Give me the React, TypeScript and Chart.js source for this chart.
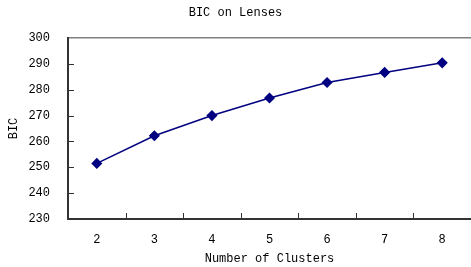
import React, { useEffect, useRef } from "react";
import { Chart, registerables } from "chart.js";

Chart.register(...registerables);

const categories = ["2", "3", "4", "5", "6", "7", "8"];
const bicValues = [251.5, 262.2, 270, 276.8, 282.8, 286.7, 290.4];
const yMin = 230;
const yMax = 300;
const yStep = 10;
const chartTitle = "BIC on Lenses";
const xTitle = "Number of Clusters";
const yTitle = "BIC";

const FONT = '"Liberation Mono", "DejaVu Sans Mono", monospace';
const CLEAR = "rgba(0,0,0,0)";

const innerTicks = {
  id: "innerTicks",
  afterDraw(chart: any) {
    const { ctx, chartArea, scales } = chart;
    const x = scales.x;
    const y = scales.y;
    ctx.save();
    ctx.strokeStyle = "#333333";
    ctx.lineWidth = 1;
    ctx.beginPath();
    y.ticks.forEach((t: any) => {
      if (t.value <= yMin || t.value >= yMax) return;
      const py = Math.round(y.getPixelForValue(t.value)) + 0.5;
      ctx.moveTo(chartArea.left, py);
      ctx.lineTo(chartArea.left + 6, py);
    });
    for (let i = 1; i < categories.length; i++) {
      const px = Math.round((x.getPixelForValue(i - 1) + x.getPixelForValue(i)) / 2) + 0.5;
      ctx.moveTo(px, chartArea.bottom);
      ctx.lineTo(px, chartArea.bottom - 6);
    }
    ctx.stroke();
    ctx.restore();
  },
};

export default function App() {
  const ref = useRef<HTMLCanvasElement | null>(null);

  useEffect(() => {
    if (!ref.current) return;
    const chart = new Chart(ref.current, {
      type: "line",
      data: {
        labels: categories,
        datasets: [
          {
            data: bicValues,
            borderColor: "#000080",
            borderWidth: 1.5,
            pointStyle: "rectRot",
            pointRadius: 4.5,
            pointBackgroundColor: "#000080",
            pointBorderColor: "#000080",
            tension: 0,
          },
        ],
      },
      options: {
        responsive: false,
        animation: false,
        layout: { autoPadding: false, padding: { left: 0, right: 0, top: 0, bottom: 0 } },
        plugins: {
          legend: { display: false },
          tooltip: { enabled: false },
          title: {
            display: true,
            text: chartTitle,
            color: "#000000",
            font: { family: FONT, size: 12, weight: "normal" },
            padding: { top: 6, bottom: 17.6 },
          },
        },
        scales: {
          x: {
            offset: true,
            grid: {
              display: true,
              drawOnChartArea: false,
              drawTicks: true,
              tickLength: 13.8,
              color: CLEAR,
              tickColor: CLEAR,
            },
            border: { display: true, color: "#333333", width: 2 },
            ticks: {
              color: "#000000",
              font: { family: FONT, size: 12 },
              padding: 0,
              maxRotation: 0,
            },
            title: {
              display: true,
              text: xTitle,
              color: "#000000",
              font: { family: FONT, size: 12 },
              padding: { top: 4.6, bottom: 0.8 },
            },
          },
          y: {
            min: yMin,
            max: yMax,
            grid: {
              drawTicks: true,
              tickLength: 18,
              tickColor: CLEAR,
              color: (c: any) => (c.tick && c.tick.value === yMax ? "#808080" : CLEAR),
              lineWidth: 1.5,
            },
            border: { display: true, color: "#333333", width: 2 },
            ticks: {
              stepSize: yStep,
              color: "#000000",
              font: { family: FONT, size: 12 },
              padding: 0,
            },
            title: {
              display: true,
              text: yTitle,
              color: "#000000",
              font: { family: FONT, size: 12 },
              padding: { top: 6.8, bottom: 7.2 },
            },
          },
        },
      },
      plugins: [innerTicks],
    });
    return () => chart.destroy();
  }, []);

  return (
    <div style={{ position: "fixed", left: 0, top: 0, width: 471, height: 267, background: "#ffffff" }}>
      <canvas ref={ref} width={471} height={267} style={{ display: "block" }} />
    </div>
  );
}
